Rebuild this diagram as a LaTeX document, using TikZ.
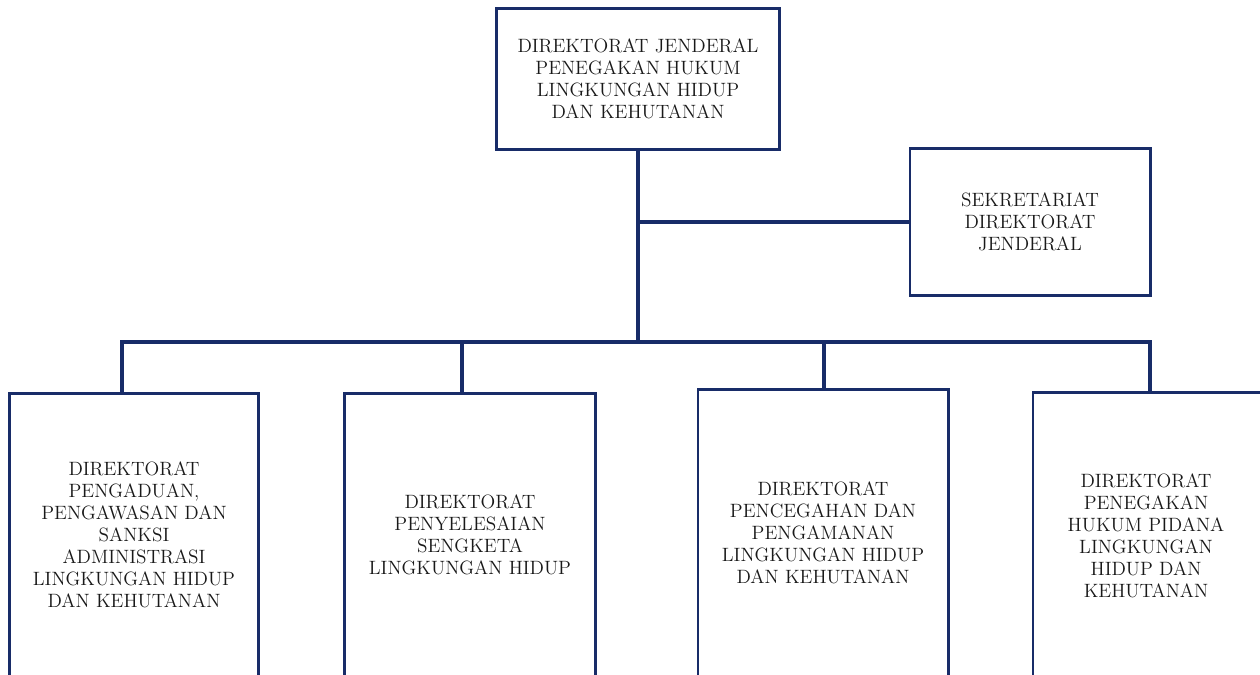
\documentclass[tikz,border=0pt]{standalone}
\usetikzlibrary{positioning}
\definecolor{blu}{RGB}{24,44,104}
\begin{document}
\begin{tikzpicture}[x=0.025cm, y=-0.025cm, line width=2.1pt, blu,
    box/.style = {draw=blu, rectangle, inner sep=0pt},
    linea/.style = {line width=2.6pt},
    testo/.style = {align=center, text=black!90, font=\fontsize{13.7}{15.6}\selectfont}]
    \useasboundingbox (0,0) rectangle (1260,675);
    \clip (0,0) rectangle (1260,675);

    % Riquadri in alto
    \node[box, testo, minimum width=7.05cm, minimum height=3.52cm] (dirjen) at (638,79)
        {DIREKTORAT JENDERAL\\PENEGAKAN HUKUM\\LINGKUNGAN HIDUP\\DAN KEHUTANAN};
    \node[box, testo, minimum width=6cm, minimum height=3.67cm] (sekre) at (1030,222)
        {SEKRETARIAT\\DIREKTORAT\\JENDERAL};

    % Riquadri delle direzioni (tagliati in basso)
    \node[box, anchor=north, minimum width=6.2cm, minimum height=8cm] (dir1) at (134,392) {};
    \node[box, anchor=north, minimum width=6.25cm, minimum height=8cm] (dir2) at (470,392) {};
    \node[box, anchor=north, minimum width=6.25cm, minimum height=8cm] (dir3) at (823,388) {};
    \node[box, anchor=north, minimum width=6.25cm, minimum height=8cm] (dir4) at (1158,391) {};

    \node[testo] (t1) at (134,535) {DIREKTORAT\\PENGADUAN,\\PENGAWASAN DAN\\SANKSI\\ADMINISTRASI\\LINGKUNGAN HIDUP\\DAN KEHUTANAN};
    \node[testo] (t2) at (470,535) {DIREKTORAT\\PENYELESAIAN\\SENGKETA\\LINGKUNGAN HIDUP};
    \node[testo] (t3) at (823,533) {DIREKTORAT\\PENCEGAHAN DAN\\PENGAMANAN\\LINGKUNGAN HIDUP\\DAN KEHUTANAN};
    \node[testo] (t4) at (1146,536) {DIREKTORAT\\PENEGAKAN\\HUKUM PIDANA\\LINGKUNGAN\\HIDUP DAN\\KEHUTANAN};

    % Punti della linea orizzontale
    \coordinate (bus) at (638,342);
    \coordinate (b1) at (122,342);
    \coordinate (b2) at (462,342);
    \coordinate (b3) at (824,342);
    \coordinate (b4) at (1150,342);

    % Collegamenti
    \draw[linea] (dirjen.south) -- (bus);
    \draw[linea] (sekre.west) -- (sekre.west -| dirjen.south);
    \draw[linea, line cap=rect] (b1) -- (b4);
    \draw[linea] (b1) -- (b1 |- dir1.north);
    \draw[linea] (b2) -- (b2 |- dir2.north);
    \draw[linea] (b3) -- (b3 |- dir3.north);
    \draw[linea] (b4) -- (b4 |- dir4.north);

\end{tikzpicture}
\end{document}
